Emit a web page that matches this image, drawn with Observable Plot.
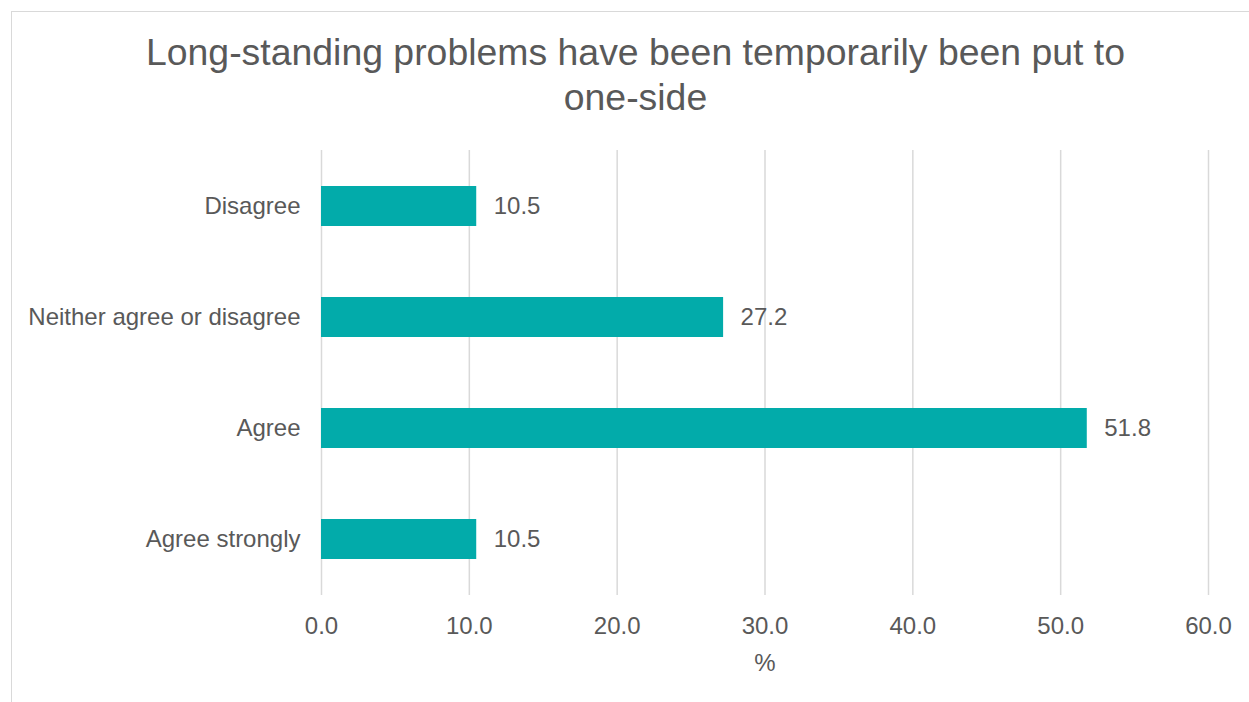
<!DOCTYPE html>
<html>
<head>
<meta charset="utf-8">
<script src="https://cdn.jsdelivr.net/npm/d3@7"></script>
<script src="https://cdn.jsdelivr.net/npm/@observablehq/plot@0.6"></script>
<style>
  html, body { margin: 0; padding: 0; background: #fff; overflow: hidden; }
  body { width: 1249px; height: 702px; position: relative; font-family: "Liberation Sans", Arial, sans-serif; }
  #frame { position: absolute; left: 11px; top: 11px; width: 1300px; height: 760px;
           border-top: 1.5px solid #d9d9d9; border-left: 1.5px solid #d9d9d9; box-sizing: border-box; }
  #title { position: absolute; left: 11px; top: 0; width: 1249px; height: 120px; padding-top: 30px; box-sizing: border-box;
           text-align: center; color: #595959; font-size: 37.4px; line-height: 45px; }
  #chart { position: absolute; left: 0; top: 120px; }
</style>
</head>
<body>
<div id="frame"></div>
<div id="title">Long-standing problems have been temporarily been put to<br>one-side</div>
<div id="chart"></div>
<script>
// Survey responses, percent of respondents
const categories = ["Disagree", "Neither agree or disagree", "Agree", "Agree strongly"];
const percents = [10.5, 27.2, 51.8, 10.5];
const xTicks = [0, 10, 20, 30, 40, 50, 60];
const axisLabel = "%";

const rows = categories.map((c, i) => ({category: c, value: percents[i]}));

const textColor = "#595959";
const barColor = "#02ABAA";

const chart = Plot.plot({
  width: 1249,
  height: 582,
  marginLeft: 321,
  marginRight: 41,
  marginTop: 30,
  marginBottom: 107,
  style: {fontFamily: "'Liberation Sans', Arial, sans-serif", fontSize: "24px", color: textColor, background: "transparent", overflow: "visible"},
  x: {domain: [0, 60]},
  y: {domain: categories, paddingInner: 0.64, paddingOuter: 0.32},
  marks: [
    Plot.ruleX(xTicks, {stroke: "#d9d9d9", strokeWidth: 1.5}),
    Plot.barX(rows, {x: "value", y: "category", fill: barColor}),
    Plot.text(rows, {x: "value", y: "category", text: d => d.value.toFixed(1), textAnchor: "start", dx: 17, fill: textColor, fontSize: 24}),
    Plot.axisX({ticks: xTicks, tickFormat: d => d.toFixed(1), tickSize: 0, tickPadding: 21, label: null, fontSize: 24, fill: textColor}),
    Plot.axisY({tickSize: 0, tickPadding: 21, label: null, fontSize: 24, fill: textColor}),
    Plot.text([axisLabel], {frameAnchor: "bottom", dy: 68, lineAnchor: "middle", fill: textColor, fontSize: 24})
  ]
});
document.getElementById("chart").appendChild(chart);
</script>
</body>
</html>
